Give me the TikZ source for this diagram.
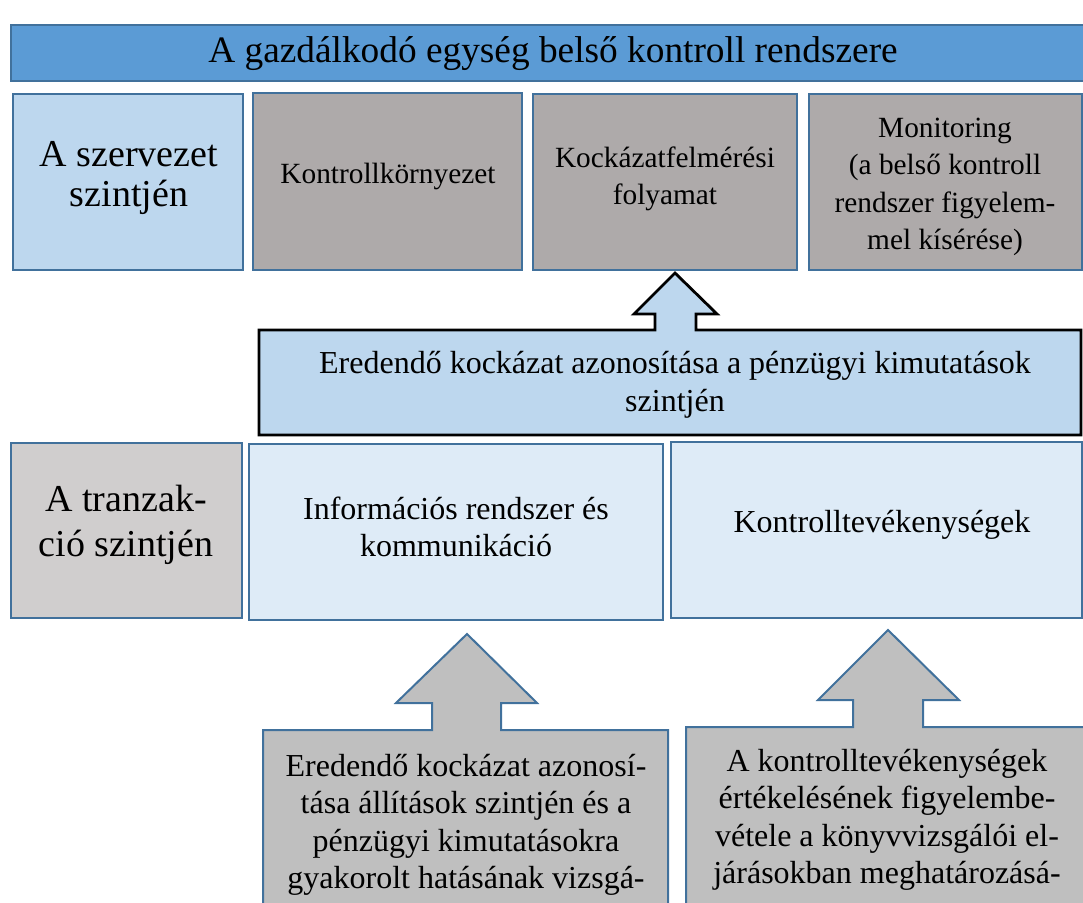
\documentclass[tikz,border=0pt]{standalone}
\usepackage{fontspec}
\setmainfont{Liberation Serif}
\definecolor{titleblue}{HTML}{5B9BD5}
\definecolor{edgeblue}{HTML}{41719C}
\definecolor{paleblue}{HTML}{BDD7EE}
\definecolor{lightblue}{HTML}{DEEBF7}
\definecolor{warmgray}{HTML}{AEAAAA}
\definecolor{lightgray}{HTML}{D0CECE}
\definecolor{midgray}{HTML}{BFBFBF}
\begin{document}
\begin{tikzpicture}[x=0.75pt,y=-0.75pt,
  panel/.style={draw=edgeblue,line width=1.5pt,line join=miter},
  darkpanel/.style={draw=black,line width=2.1pt,line join=miter},
  label/.style={align=center,inner sep=0pt,text=black},
  bodytext/.style={label,font=\fontsize{22}{28.1}\selectfont},
  largetext/.style={label,font=\fontsize{24}{28.1}\selectfont},
  leveltext/.style={label,font=\fontsize{28.5}{30}\selectfont},
  titletext/.style={label,font=\fontsize{28}{34}\selectfont}]
\useasboundingbox (0,0) rectangle (1083,903);
\clip (0,0) rectangle (1083,903);

% header bar
\draw[panel,fill=titleblue] (11,25) rectangle (1095,81);
\node[titletext] (title) at (553,54) {A gazdálkodó egység belső kontroll rendszere};

% organisation level row
\draw[panel,fill=paleblue] (13,94) rectangle (243,270);
\draw[panel,fill=warmgray] (253,93) rectangle (522,270);
\draw[panel,fill=warmgray] (533,94) rectangle (797,270);
\draw[panel,fill=warmgray] (809,94) rectangle (1082,270);
\node[leveltext] (org) at (129,178) {A szervezet\\szintjén};
\node[bodytext] (env) at (388,176) {Kontrollkörnyezet};
\node[bodytext] (risk) at (665,179) {Kockázatfelmérési\\folyamat};
\node[bodytext] (mon) at (945,187) {Monitoring\\(a belső kontroll\\rendszer figyelem-\\mel kísérése)};

% financial statement level block arrow
\draw[darkpanel,fill=paleblue] (259,330) -- (655,330) -- (655,314) -- (634,314)
  -- (675,273) -- (717,314) -- (696,314) -- (696,330) -- (1081,330)
  -- (1081,435) -- (259,435) -- cycle;
\node[largetext] (fs) at (675,385) {Eredendő kockázat azonosítása a pénzügyi kimutatások\\szintjén};

% transaction level row
\draw[panel,fill=lightgray] (11,443) rectangle (242,618);
\draw[panel,fill=lightblue] (249,444) rectangle (663,620);
\draw[panel,fill=lightblue] (671,442) rectangle (1082,618);
\node[leveltext,font=\fontsize{28.5}{33.5}\selectfont] (trx) at (126,525) {A tranzak-\\ció szintjén};
\node[largetext] (info) at (456,527) {Információs rendszer és\\kommunikáció};
\node[largetext] (act) at (882,525) {Kontrolltevékenységek};

% assertion level block arrows
\draw[panel,fill=midgray] (263,920) -- (263,730) -- (432,730) -- (432,703) -- (396,703)
  -- (467,634) -- (537,703) -- (501,703) -- (501,730) -- (668,730) -- (668,920);
\node[largetext] (assert) at (466,825) {Eredendő kockázat azonosí-\\tása állítások szintjén és a\\pénzügyi kimutatásokra\\gyakorolt hatásának vizsgá-};

\draw[panel,fill=midgray] (686,920) -- (686,727) -- (853,727) -- (853,700) -- (818,700)
  -- (888,630) -- (959,700) -- (923,700) -- (923,727) -- (1095,727) -- (1095,920);
\node[largetext] (eval) at (887,820) {A kontrolltevékenységek\\értékelésének figyelembe-\\vétele a könyvvizsgálói el-\\járásokban meghatározásá-};
\end{tikzpicture}
\end{document}
